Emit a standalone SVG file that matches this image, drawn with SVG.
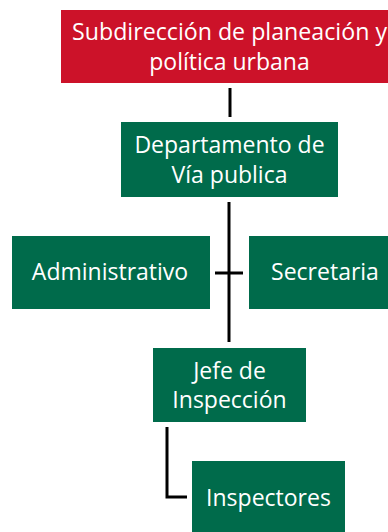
<svg xmlns="http://www.w3.org/2000/svg" width="388" height="532" viewBox="0 0 388 532">
<style>
.red{fill:#CC1229}
.green{fill:#006B4B}
text{font-family:"Open Sans","Noto Sans",sans-serif;font-size:23px;fill:#fff;text-anchor:middle}
.conn{stroke:#000;stroke-width:3;fill:none}
</style>
<rect width="388" height="532" fill="#fff"/>
<g id="connectors">
<line class="conn" x1="230" y1="88" x2="230" y2="117"/>
<line class="conn" x1="229" y1="202" x2="229" y2="342"/>
<line class="conn" x1="215" y1="273" x2="243" y2="273"/>
<polyline class="conn" points="167,427 167,497 187,497"/>
</g>
<g id="subdireccion">
<rect class="red" x="61" y="10" width="340" height="73"/>
<text x="229.5" y="40" textLength="315" lengthAdjust="spacingAndGlyphs">Subdirección de planeación y</text>
<text x="229.5" y="70">política urbana</text>
</g>
<g id="departamento">
<rect class="green" x="121" y="122" width="217" height="75"/>
<text x="229.5" y="153">Departamento de</text>
<text x="229.5" y="183">Vía publica</text>
</g>
<g id="administrativo">
<rect class="green" x="12" y="236" width="198" height="73"/>
<text x="110" y="280">Administrativo</text>
</g>
<g id="secretaria">
<rect class="green" x="249" y="236" width="152" height="73"/>
<text x="325" y="280">Secretaria</text>
</g>
<g id="jefe">
<rect class="green" x="153" y="348" width="153" height="74"/>
<text x="229.5" y="379">Jefe de</text>
<text x="229.5" y="408">Inspección</text>
</g>
<g id="inspectores">
<rect class="green" x="192" y="461" width="153" height="80"/>
<text x="268.5" y="506">Inspectores</text>
</g>
</svg>
